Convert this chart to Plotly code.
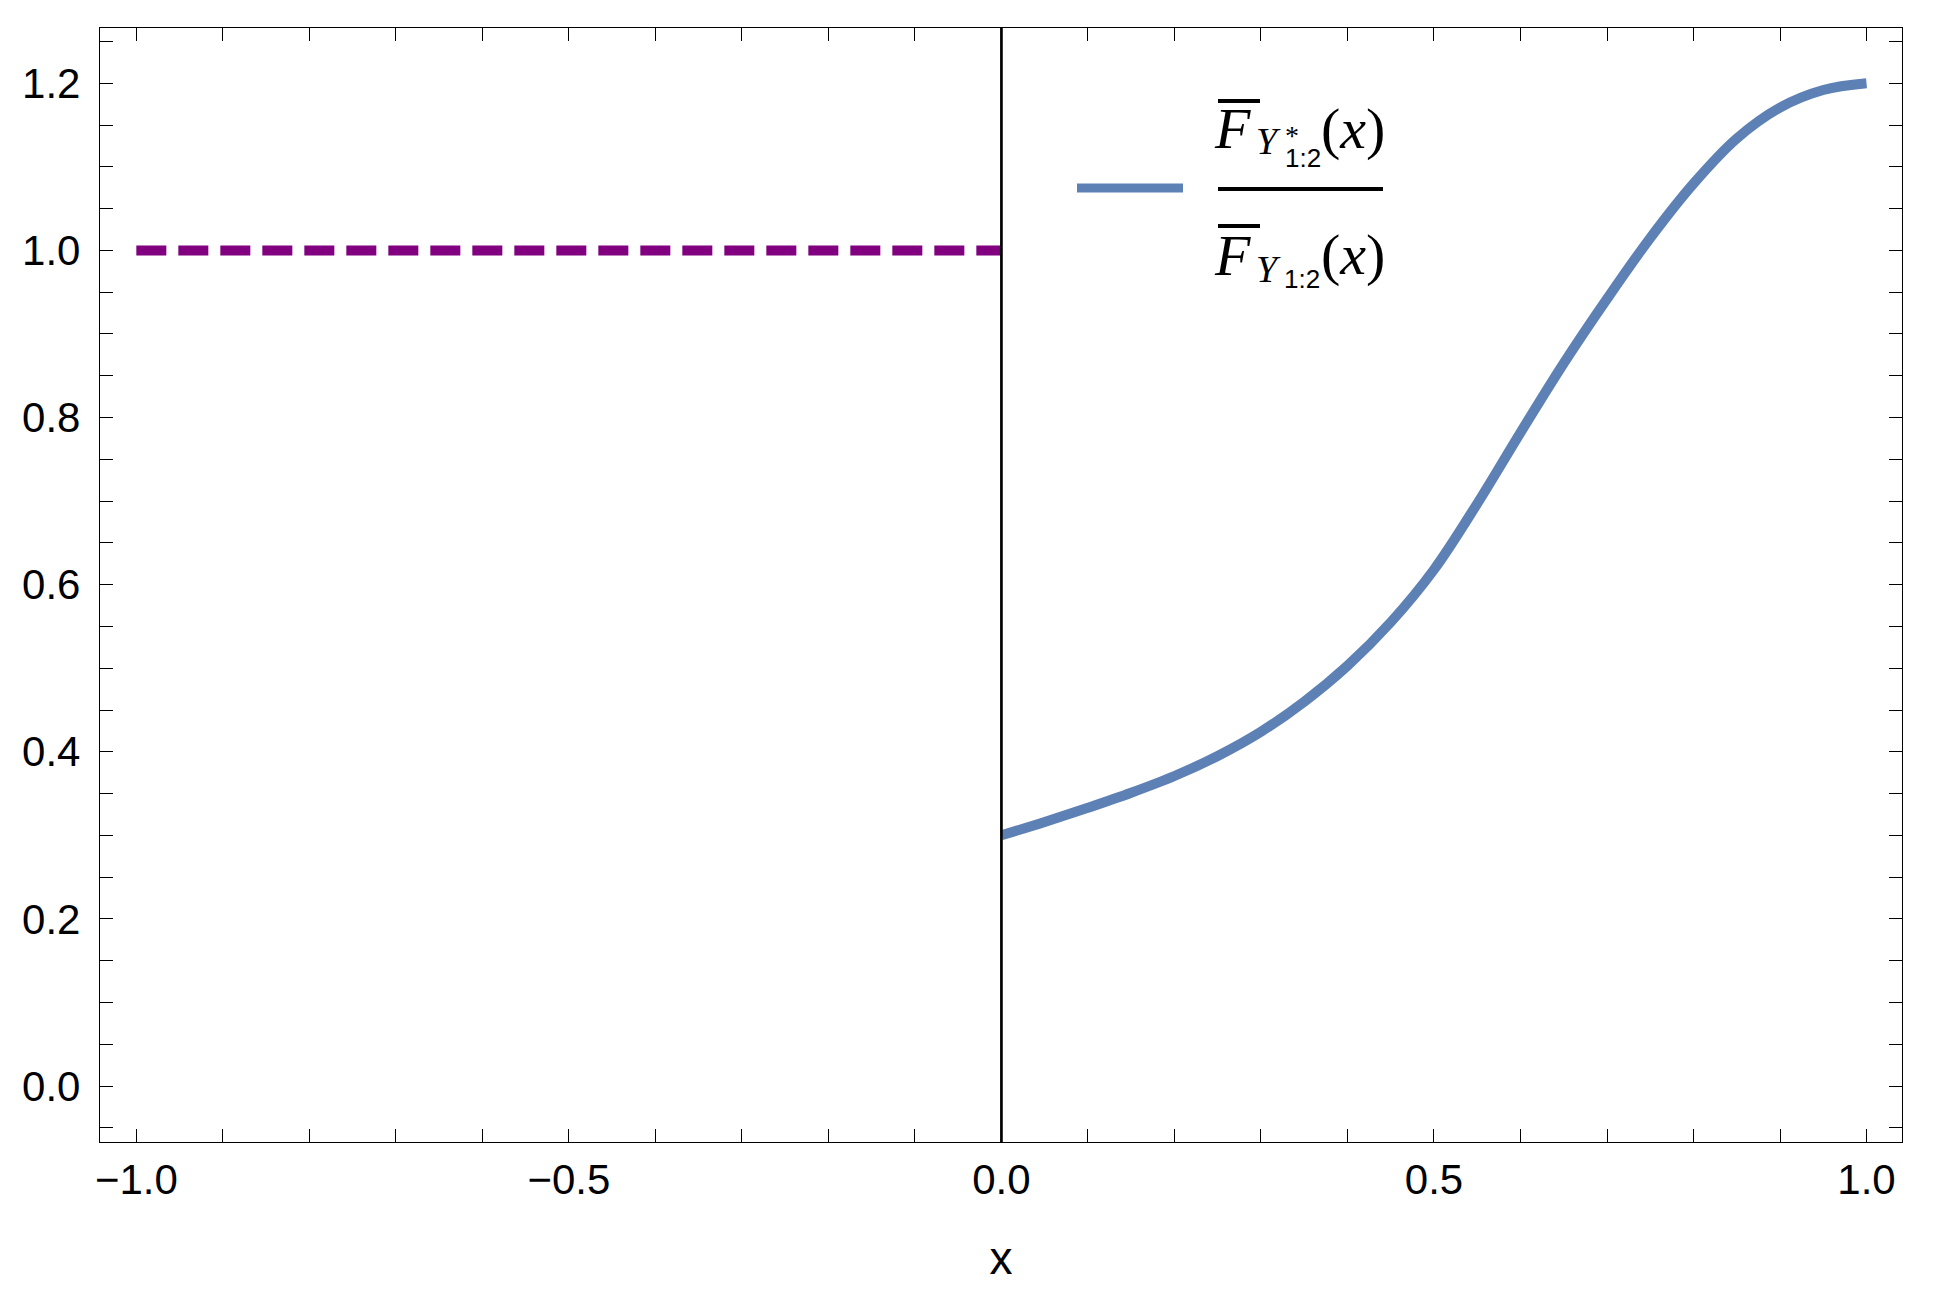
import plotly.graph_objects as go

# ---- data ----
ratio_x = [0.00, 0.05, 0.10, 0.15, 0.20, 0.25, 0.30, 0.35, 0.40, 0.45, 0.50,
           0.55, 0.60, 0.65, 0.70, 0.75, 0.80, 0.85, 0.90, 0.95, 1.00]
ratio_y = [0.300, 0.316, 0.333, 0.351, 0.371, 0.395, 0.424, 0.460, 0.503, 0.555, 0.618,
           0.697, 0.782, 0.865, 0.942, 1.015, 1.080, 1.134, 1.171, 1.192, 1.200]
ref_x = [-1.0, 0.0]
ref_y = [1.0, 1.0]

x_tickvals = [round(-1.0 + 0.1 * i, 2) for i in range(21)]
x_ticktext = ["−1.0", "", "", "", "", "−0.5", "", "", "", "", "0.0",
              "", "", "", "", "0.5", "", "", "", "", "1.0"]
y_tickvals = [round(-0.05 + 0.05 * i, 2) for i in range(27)]
y_labels = {0.0: "0.0", 0.2: "0.2", 0.4: "0.4", 0.6: "0.6", 0.8: "0.8", 1.0: "1.0", 1.2: "1.2"}
y_ticktext = [y_labels.get(v, "") for v in y_tickvals]

BLUE = "#5E81B5"
PURPLE = "#800080"
OFF = 8  # browser body margin
W, H = 1933 - OFF, 1299 - OFF
ML, MR, MT, MB = 100 - OFF, 31, 28 - OFF, 157
PW, PH = W - ML - MR, H - MT - MB


def px(x):
    # page pixel -> paper
    return (x - OFF - ML) / PW


def py(y):
    return (H - MB - (y - OFF)) / PH


fig = go.Figure()
fig.add_trace(go.Scatter(x=ref_x, y=ref_y, mode="lines",
                         line=dict(color=PURPLE, width=10, dash="30px,12px"),
                         showlegend=False, hoverinfo="skip"))
fig.add_trace(go.Scatter(x=ratio_x, y=ratio_y, mode="lines",
                         line=dict(color=BLUE, width=10, shape="spline", smoothing=1.0),
                         showlegend=False))

# vertical axis line at x = 0
fig.add_shape(type="line", xref="x", yref="paper", x0=0, x1=0, y0=0, y1=1,
              line=dict(color="black", width=2.7), layer="above")

# ---- manual legend ----
fig.add_shape(type="line", xref="paper", yref="paper",
              x0=px(1077), x1=px(1183), y0=py(188), y1=py(188),
              line=dict(color=BLUE, width=9))
fig.add_shape(type="line", xref="paper", yref="paper",
              x0=px(1218), x1=px(1383), y0=py(189), y1=py(189),
              line=dict(color="black", width=4))
for yb in (101, 226):
    fig.add_shape(type="line", xref="paper", yref="paper",
                  x0=px(1218), x1=px(1260), y0=py(yb), y1=py(yb),
                  line=dict(color="black", width=4))

SERIF = "Liberation Serif, Times New Roman, serif"
SANS = "Liberation Sans, Arial, sans-serif"


def ann(text, x, y, size, family, yanchor="middle"):
    fig.add_annotation(text=text, xref="paper", yref="paper", x=px(x), y=py(y),
                       xanchor="left", yanchor=yanchor, showarrow=False,
                       borderpad=0, borderwidth=0, align="left",
                       font=dict(family=family, size=size, color="black"))


# numerator
ann("<i>F</i>", 1214, 128, 58, SERIF)
ann("<i>Y</i>", 1256, 141, 38, SERIF)
ann("<span style='font-family:Liberation Serif, serif; font-size:28px'>*</span><br>"
    "<span style='font-size:26px'>1:2</span>", 1285, 173, 17, SANS, yanchor="bottom")
ann("(<i>x</i>)", 1321, 128, 58, SERIF)
# denominator
ann("<i>F</i>", 1214, 255, 58, SERIF)
ann("<i>Y</i>", 1256, 269, 38, SERIF)
ann("1:2", 1284, 279, 26, SANS)
ann("(<i>x</i>)", 1321, 254, 58, SERIF)

axis_common = dict(
    showline=True, linecolor="black", linewidth=1.3, mirror="ticks",
    ticks="inside", ticklen=13, tickwidth=1.3, tickcolor="black",
    showgrid=False, zeroline=False,
    tickfont=dict(family=SANS, size=42, color="black"),
)

fig.update_layout(
    width=W, height=H,
    margin=dict(l=ML, r=MR, t=MT, b=MB),
    paper_bgcolor="white", plot_bgcolor="white",
    xaxis=dict(range=[-1.042, 1.041], tickmode="array", tickvals=x_tickvals,
               ticktext=x_ticktext,
               title=dict(text="x", font=dict(family=SANS, size=46, color="black"),
                          standoff=40),
               **axis_common),
    yaxis=dict(range=[-0.067, 1.2662], tickmode="array", tickvals=y_tickvals,
               ticktext=y_ticktext, ticklabelstandoff=10, **axis_common),
)

fig.write_html("out.html")
